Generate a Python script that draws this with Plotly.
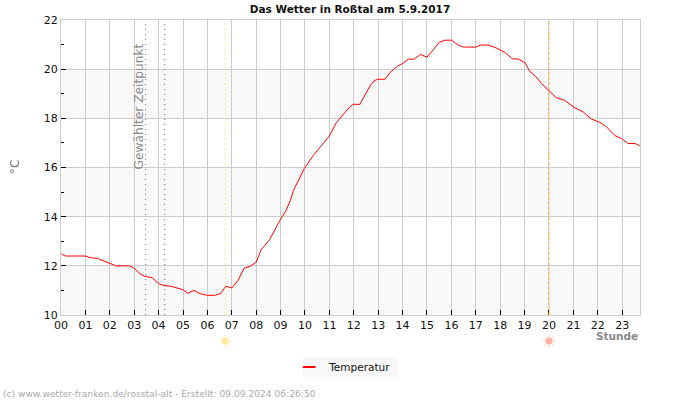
import plotly.graph_objects as go

hours = [0.02,0.18,1.0,1.2,1.5,1.75,1.95,2.25,2.82,3.0,3.25,3.45,3.73,4.0,4.2,4.5,5.0,5.2,5.45,5.7,6.0,6.3,6.55,6.75,7.0,7.25,7.5,7.75,8.0,8.2,8.55,9.0,9.2,9.4,9.53,9.97,10.35,10.87,11.0,11.28,11.45,11.82,11.98,12.25,12.46,12.69,12.83,12.97,13.28,13.49,13.79,14.0,14.24,14.48,14.73,15.0,15.26,15.5,15.74,16.01,16.29,16.49,17.0,17.2,17.51,17.85,18.2,18.5,18.74,19.01,19.22,19.45,19.7,19.96,20.3,20.65,21.02,21.4,21.74,22.08,22.35,22.7,22.97,23.24,23.55,23.72]
temps = [12.48,12.4,12.4,12.33,12.3,12.2,12.15,12.0,12.0,11.9,11.67,11.57,11.52,11.28,11.2,11.17,11.03,10.88,11.0,10.87,10.8,10.8,10.88,11.17,11.1,11.4,11.9,11.98,12.15,12.65,13.07,13.9,14.2,14.67,15.07,15.96,16.5,17.09,17.28,17.82,18.03,18.45,18.57,18.57,18.95,19.36,19.52,19.59,19.59,19.87,20.12,20.23,20.41,20.41,20.6,20.49,20.79,21.09,21.18,21.18,20.97,20.9,20.9,20.98,20.98,20.86,20.68,20.42,20.41,20.27,19.9,19.71,19.41,19.18,18.84,18.73,18.45,18.26,17.97,17.84,17.66,17.3,17.18,16.98,16.97,16.88]

hour_ticks = list(range(24))
hour_labels = [f"{h:02d}" for h in hour_ticks]
temp_ticks = [10, 12, 14, 16, 18, 20, 22]
bands = [(10, 12), (14, 16), (18, 20)]
selected_times = [3.47, 4.25]
sunrise = 6.73
sunset = 20.0
X_MAX = 23.73
Y_MIN, Y_MAX = 10, 22

FONT = "DejaVu Sans"
ML, MR, MT, MB = 60.5, 59.7, 20, 48
PW, PH = 700 - ML - MR, 400 - MT - MB
def px(x): return (x - ML) / PW
def py(y): return (400 - MB - y) / PH

fig = go.Figure()

fig.add_trace(go.Scatter(x=hours, y=temps, mode="lines", line=dict(color="#ff0000", width=1),
                         showlegend=False, hoverinfo="skip"))
fig.add_trace(go.Scatter(x=[None], y=[None], mode="markers", name="Temperatur",
                         marker=dict(symbol="line-ew", size=9, line=dict(color="#ff0000", width=2))))

for x, core, ray in [(sunrise, "#ffe9a3", "#fff0c4"), (sunset, "#ffb5a0", "#ffd0c4")]:
    fig.add_trace(go.Scatter(x=[x], y=[0.5], xaxis="x2", yaxis="y2", mode="markers", showlegend=False,
                             hoverinfo="skip",
                             marker=dict(symbol="asterisk", size=11, line=dict(color=ray, width=1))))
    fig.add_trace(go.Scatter(x=[x], y=[0.5], xaxis="x2", yaxis="y2", mode="markers", showlegend=False,
                             hoverinfo="skip", marker=dict(symbol="circle", size=7, color=core)))

for lo, hi in bands:
    fig.add_shape(type="rect", xref="x", yref="y", x0=0, x1=X_MAX, y0=lo, y1=hi,
                  fillcolor="#f8f8f8", line_width=0, layer="below")
for t in selected_times:
    fig.add_shape(type="line", xref="x", yref="y", x0=t, x1=t, y0=Y_MIN, y1=Y_MAX,
                  line=dict(color="#777777", width=1, dash="1px 4px"))
fig.add_shape(type="line", xref="x", yref="y", x0=sunrise, x1=sunrise, y0=Y_MIN, y1=Y_MAX,
              line=dict(color="#f4ee90", width=1, dash="2px 3px"))
fig.add_shape(type="line", xref="x", yref="y", x0=sunset, x1=sunset, y0=Y_MIN, y1=Y_MAX,
              line=dict(color="#ffb347", width=1, dash="3px 2px"))
# legend panel
fig.add_shape(type="rect", xref="paper", yref="paper", x0=px(303), x1=px(398), y0=py(377), y1=py(357),
              fillcolor="#f8f8f8", line_width=0, layer="below")

fig.add_annotation(text="Gewählter Zeitpunkt", xref="paper", yref="paper", x=px(139), y=py(171), textangle=-90,
                   showarrow=False, xanchor="center", yanchor="bottom",
                   font=dict(family=FONT, size=12.2, color="#8a8a8a"))
fig.add_annotation(text="°C", xref="paper", yref="paper", x=px(14), y=py(167.5), textangle=-90, showarrow=False,
                   xanchor="center", yanchor="middle", font=dict(family=FONT, size=12, color="#777777"))
fig.add_annotation(text="<b>Stunde</b>", xref="paper", yref="paper", x=px(640), y=py(336), showarrow=False,
                   xanchor="right", yanchor="middle", font=dict(family=FONT, size=10.5, color="#888888"))
fig.add_annotation(text="(c) www.wetter-franken.de/rosstal-alt - Erstellt: 09.09.2024 06:26:50",
                   xref="paper", yref="paper", x=px(0.5), y=py(394), showarrow=False, xanchor="left", yanchor="middle",
                   font=dict(family=FONT, size=9.15, color="#aaaaaa"))

fig.update_layout(
    width=700, height=400, autosize=False,
    margin=dict(l=ML, r=MR, t=MT, b=MB, pad=0),
    paper_bgcolor="white", plot_bgcolor="white",
    title=dict(text="<b>Das Wetter in Roßtal am 5.9.2017</b>", x=0.5, xanchor="center", y=0.977, yanchor="middle",
               font=dict(family=FONT, size=10.5, color="#111111")),
    font=dict(family=FONT, size=11, color="#111111"),
    legend=dict(x=px(289), y=py(367), xanchor="left", yanchor="middle", bgcolor="rgba(0,0,0,0)",
                font=dict(family=FONT, size=10.5, color="#111111"), itemwidth=30),
    showlegend=True,
    xaxis=dict(domain=[0, 1], range=[0, X_MAX], tickvals=hour_ticks, ticktext=hour_labels, ticks="inside", ticklen=5,
               tickcolor="#000000", showgrid=True, gridcolor="#cccccc", gridwidth=1, showline=True,
               linecolor="#cccccc", mirror=True, zeroline=False, tickangle=0, anchor="y",
               tickfont=dict(family=FONT, size=11, color="#111111")),
    yaxis=dict(domain=[py(315), 1], range=[Y_MIN, Y_MAX], tickvals=temp_ticks, ticks="inside", ticklen=5, tickcolor="#000000",
               showgrid=True, gridcolor="#cccccc", gridwidth=1, showline=True, linecolor="#cccccc",
               mirror=True, zeroline=False, anchor="x",
               minor=dict(dtick=1, ticks="inside", ticklen=3, tickcolor="#000000", showgrid=False),
               tickfont=dict(family=FONT, size=11, color="#111111")),
    xaxis2=dict(domain=[0, 1], range=[0, X_MAX], visible=False, anchor="y2"),
    yaxis2=dict(domain=[0, py(330)], range=[0, 1], visible=False, anchor="x2"),
)
fig.write_html("out.html", config={"displayModeBar": False},
               post_script="document.body.style.margin='0';window.dispatchEvent(new Event('resize'));")
